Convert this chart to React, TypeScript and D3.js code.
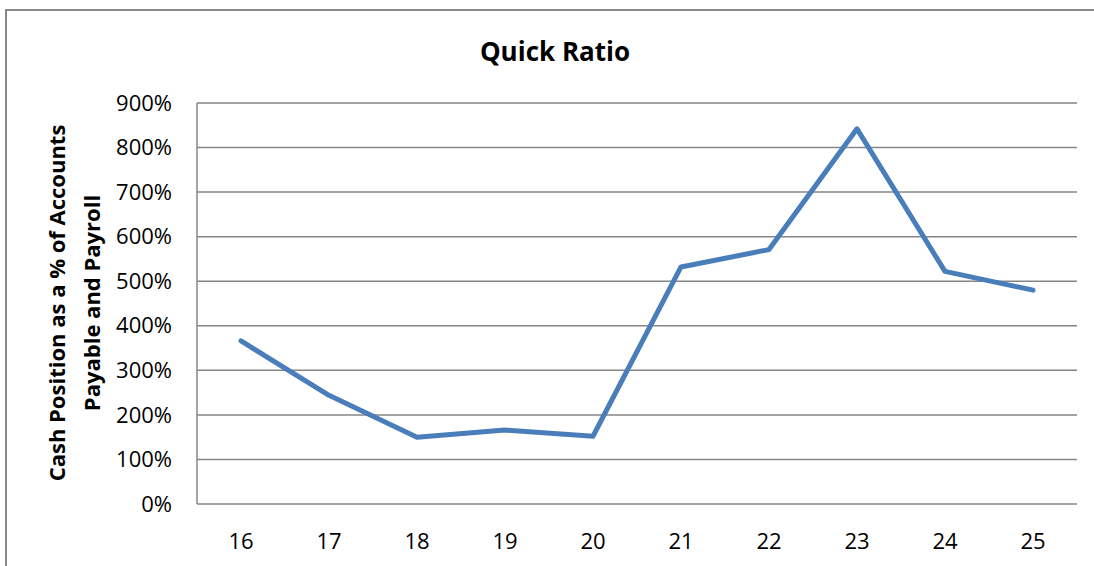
import React from "react";
import * as d3 from "d3";

const categories = ["16", "17", "18", "19", "20", "21", "22", "23", "24", "25"];
const quickRatio = [3.66, 2.44, 1.5, 1.66, 1.52, 5.32, 5.71, 8.42, 5.22, 4.8];
const yTicks = [0, 1, 2, 3, 4, 5, 6, 7, 8, 9];

const W = 1094;
const H = 566;
const M = { left: 197, right: 1077, top: 103, bottom: 504 };
const FONT = "'Open Sans', 'Liberation Sans', sans-serif";

export default function App() {
  const x = d3.scaleBand<string>().domain(categories).range([M.left, M.right]);
  const y = d3.scaleLinear().domain([0, 9]).range([M.bottom, M.top]);
  const line = d3
    .line<number>()
    .x((_, i) => (x(categories[i]) as number) + x.bandwidth() / 2)
    .y((d) => y(d));
  const fmt = (v: number) => `${Math.round(v * 100)}%`;

  return (
    <svg
      width={W}
      height={H}
      style={{ position: "absolute", left: 0, top: 0, background: "#fff" }}
      fontFamily={FONT}
    >
      <rect x={6} y={10} width={W + 20} height={H + 20} fill="#fff" stroke="#888" strokeWidth={2} />
      <text x={555} y={61} textAnchor="middle" fontSize={26} fontWeight="bold" fill="#000">
        Quick Ratio
      </text>
      {yTicks.map((t) => (
        <line key={t} x1={M.left} x2={M.right} y1={y(t)} y2={y(t)} stroke="#868686" strokeWidth={1.5} />
      ))}
      <line x1={M.left} x2={M.left} y1={M.top} y2={M.bottom} stroke="#868686" strokeWidth={1.5} />
      {yTicks.map((t) => (
        <text key={t} x={172} y={y(t)} dy="0.35em" textAnchor="end" fontSize={22} fill="#000">
          {fmt(t)}
        </text>
      ))}
      {categories.map((c) => (
        <text
          key={c}
          x={(x(c) as number) + x.bandwidth() / 2}
          y={541}
          dy="0.35em"
          textAnchor="middle"
          fontSize={22}
          fill="#000"
        >
          {c}
        </text>
      ))}
      <g transform="translate(57,303) rotate(-90)">
        <text x={0} y={0} dy="0.35em" textAnchor="middle" fontSize={22} fontWeight="bold" fill="#000">
          Cash Position as a % of Accounts
        </text>
        <text x={0} y={35} dy="0.35em" textAnchor="middle" fontSize={22} fontWeight="bold" fill="#000">
          Payable and Payroll
        </text>
      </g>
      <path d={line(quickRatio) || ""} fill="none" stroke="#4a7ebb" strokeWidth={5} strokeLinejoin="round" strokeLinecap="round" />
    </svg>
  );
}
